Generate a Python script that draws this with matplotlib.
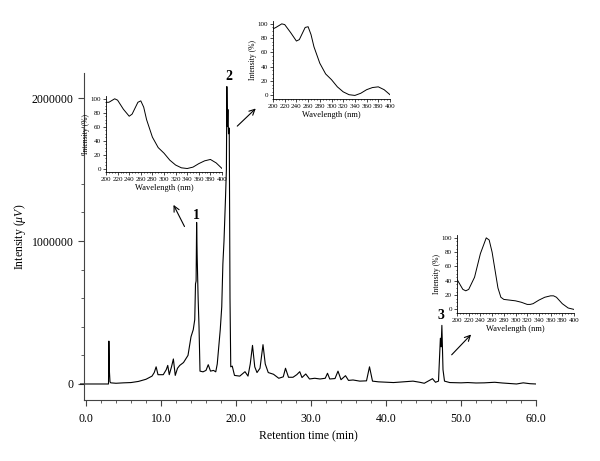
import matplotlib
matplotlib.use('Agg')
import matplotlib.pyplot as plt
from matplotlib.ticker import MultipleLocator

plt.rcParams['font.family'] = ['Liberation Serif', 'DejaVu Serif']
plt.rcParams['mathtext.fontset'] = 'custom'
plt.rcParams['mathtext.rm'] = 'Liberation Serif'
plt.rcParams['mathtext.it'] = 'Liberation Serif:italic'

# chromatogram (retention time in min, intensity in uV)
rt = [-0.8, 3.0, 3.05, 3.12, 3.2, 3.3, 4.0, 5.0, 6.0, 7.0,
      8.0, 8.8, 9.1, 9.35, 9.6, 10.3, 10.7, 10.9, 11.1, 11.4,
      11.65, 11.9, 12.2, 12.5, 13.0, 13.6, 14.0, 14.3, 14.5, 14.6,
      14.68, 14.75, 14.82, 14.95, 15.07, 15.2, 15.6, 16.0, 16.3, 16.6,
      17.0, 17.3, 17.5, 17.9, 18.1, 18.25, 18.4, 18.6, 18.72, 18.78,
      18.85, 18.92, 19.0, 19.1, 19.2, 19.3, 19.5, 19.8, 20.5, 21.2,
      21.6, 21.9, 22.2, 22.5, 22.8, 23.2, 23.6, 23.9, 24.3, 25.0,
      25.7, 26.3, 26.6, 27.0, 27.6, 28.1, 28.5, 28.8, 29.3, 29.8,
      30.5, 31.2, 31.9, 32.2, 32.5, 33.2, 33.6, 34.0, 34.6, 35.0,
      35.6, 36.5, 37.4, 37.8, 38.2, 39.0, 40.2, 41.0, 43.6, 44.5,
      45.1, 46.2, 46.6, 47.0, 47.25, 47.35, 47.45, 47.6, 47.8, 48.5,
      50.0, 50.9, 52.0, 53.1, 54.5, 55.5, 57.4, 58.3, 59.2, 60.0]
intensity = [0, 0, 300000, 90000, 15000, 8000, 5000, 8000, 10000, 18000,
             33000, 55000, 80000, 120000, 65000, 65000, 100000, 130000, 65000, 120000,
             175000, 60000, 110000, 130000, 150000, 200000, 330000, 380000, 450000, 700000,
             720000, 1130000, 900000, 600000, 400000, 90000, 85000, 95000, 135000, 90000,
             95000, 85000, 140000, 380000, 540000, 840000, 1000000, 1300000, 1500000, 2080000,
             1800000, 1920000, 1750000, 1790000, 600000, 120000, 125000, 60000, 55000, 86000,
             55000, 140000, 270000, 120000, 80000, 110000, 275000, 140000, 80000, 68000,
             40000, 50000, 110000, 47000, 47000, 65000, 86000, 45000, 70000, 35000,
             40000, 35000, 40000, 75000, 35000, 38000, 90000, 30000, 58000, 25000,
             28000, 20000, 22000, 120000, 20000, 15000, 12000, 10000, 20000, 12000,
             5000, 37000, 12000, 20000, 320000, 260000, 410000, 100000, 20000, 10000,
             8000, 10000, 7000, 8000, 12000, 7000, 0, 8000, 2000, 0]

# UV spectra of the three labelled peaks
wl1 = [200, 205, 215, 220, 230, 240, 245, 255, 260, 265, 270, 280, 290,
       300, 310, 320, 330, 340, 350, 360, 370, 380, 390, 400]
uv1 = [95, 95, 100, 98, 85, 75, 78, 95, 97, 88, 70, 45, 30,
       22, 12, 5, 1, 0, 2, 7, 11, 13, 8, 0]
wl2 = [200, 205, 215, 220, 230, 240, 245, 255, 260, 265, 270, 280, 290,
       300, 310, 320, 330, 340, 350, 360, 370, 380, 390, 400]
uv2 = [93, 95, 100, 99, 88, 76, 78, 95, 96, 85, 68, 45, 30,
       22, 12, 5, 1, 0, 3, 8, 11, 12, 8, 1]
wl3 = [200, 205, 210, 215, 220, 230, 240, 250, 255, 260, 265, 270, 275, 280,
       290, 300, 310, 320, 325, 330, 340, 350, 360, 365, 370, 380, 390, 400]
uv3 = [42, 35, 28, 26, 28, 45, 78, 100, 97, 80, 55, 30, 17, 14,
       13, 12, 10, 7, 7, 8, 13, 17, 19, 19, 17, 8, 2, 0]

W, H = 600, 461
fig = plt.figure(figsize=(6, 4.61), dpi=100)

def px_rect(x0, y0, x1, y1):
    return [x0 / W, 1 - y1 / H, (x1 - x0) / W, (y1 - y0) / H]

ax = fig.add_axes(px_rect(80, 73, 536, 400))
ax.plot(rt, intensity, color='black', linewidth=0.8)
ax.set_xlim(-0.8, 60)
ax.set_ylim(-112000, 2175000)
for s in ['top', 'right']:
    ax.spines[s].set_visible(False)
ax.spines['left'].set_position(('data', -0.25))
ax.spines['bottom'].set_bounds(-0.25, 60)
ax.spines['left'].set_color('#444444')
ax.spines['bottom'].set_color('#444444')
ax.set_xticks([0, 10, 20, 30, 40, 50, 60])
ax.set_xticklabels(['0.0', '10.0', '20.0', '30.0', '40.0', '50.0', '60.0'])
ax.xaxis.set_minor_locator(MultipleLocator(2))
ax.set_yticks([0, 1000000, 2000000])
ax.set_yticklabels(['0', '1000000', '2000000'])
ax.yaxis.set_minor_locator(MultipleLocator(200000))
ax.tick_params(which='major', length=4, labelsize=8.5, color='#444444')
ax.tick_params(axis='x', which='major', pad=5)
ax.tick_params(which='minor', length=2.5, color='#444444')
ax.set_xlabel('Retention time (min)', fontsize=8.5, labelpad=4)
ax.set_ylabel(r'Intensity ($\mathit{\mu V}$)', fontsize=8.5, labelpad=3)

# peak labels and arrows
ax.text(14.67, 1180000, '1', fontsize=10, fontweight='bold', ha='center', va='center')
ax.text(19.07, 2150000, '2', fontsize=10, fontweight='bold', ha='center', va='center')
ax.text(47.3, 480000, '3', fontsize=10, fontweight='bold', ha='center', va='center')
arrow = dict(arrowstyle='->', color='black', lw=0.8)
ax.annotate('', xy=(11.5, 1270000), xytext=(13.3, 1084000), arrowprops=arrow)
ax.annotate('', xy=(22.9, 1940000), xytext=(19.9, 1790000), arrowprops=arrow, annotation_clip=False)
ax.annotate('', xy=(51.6, 360000), xytext=(48.5, 190000), arrowprops=arrow)

def inset(rect, wl, uv):
    a = fig.add_axes(rect)
    a.plot(wl, uv, color='black', linewidth=0.7)
    a.set_xlim(200, 400)
    a.set_ylim(-5, 104)
    for s in ['top', 'right']:
        a.spines[s].set_visible(False)
    for s in ['left', 'bottom']:
        a.spines[s].set_linewidth(0.6)
    a.set_xticks(range(200, 401, 20))
    a.set_yticks(range(0, 101, 20))
    a.xaxis.set_minor_locator(MultipleLocator(5))
    a.yaxis.set_minor_locator(MultipleLocator(5))
    a.tick_params(which='major', length=2, width=0.5, labelsize=5, pad=1.5)
    a.tick_params(which='minor', length=1, width=0.5)
    a.set_xlabel('Wavelength (nm)', fontsize=6, labelpad=1.5)
    a.set_ylabel('Intensity (%)', fontsize=5.5, labelpad=0.5)
    a.patch.set_alpha(0)
    return a

inset(px_rect(106, 96, 222, 172), wl1, uv1)
inset(px_rect(273, 21, 390, 99), wl2, uv2)
inset(px_rect(457, 235, 574, 313), wl3, uv3)

fig.savefig('out.png', dpi=100)
